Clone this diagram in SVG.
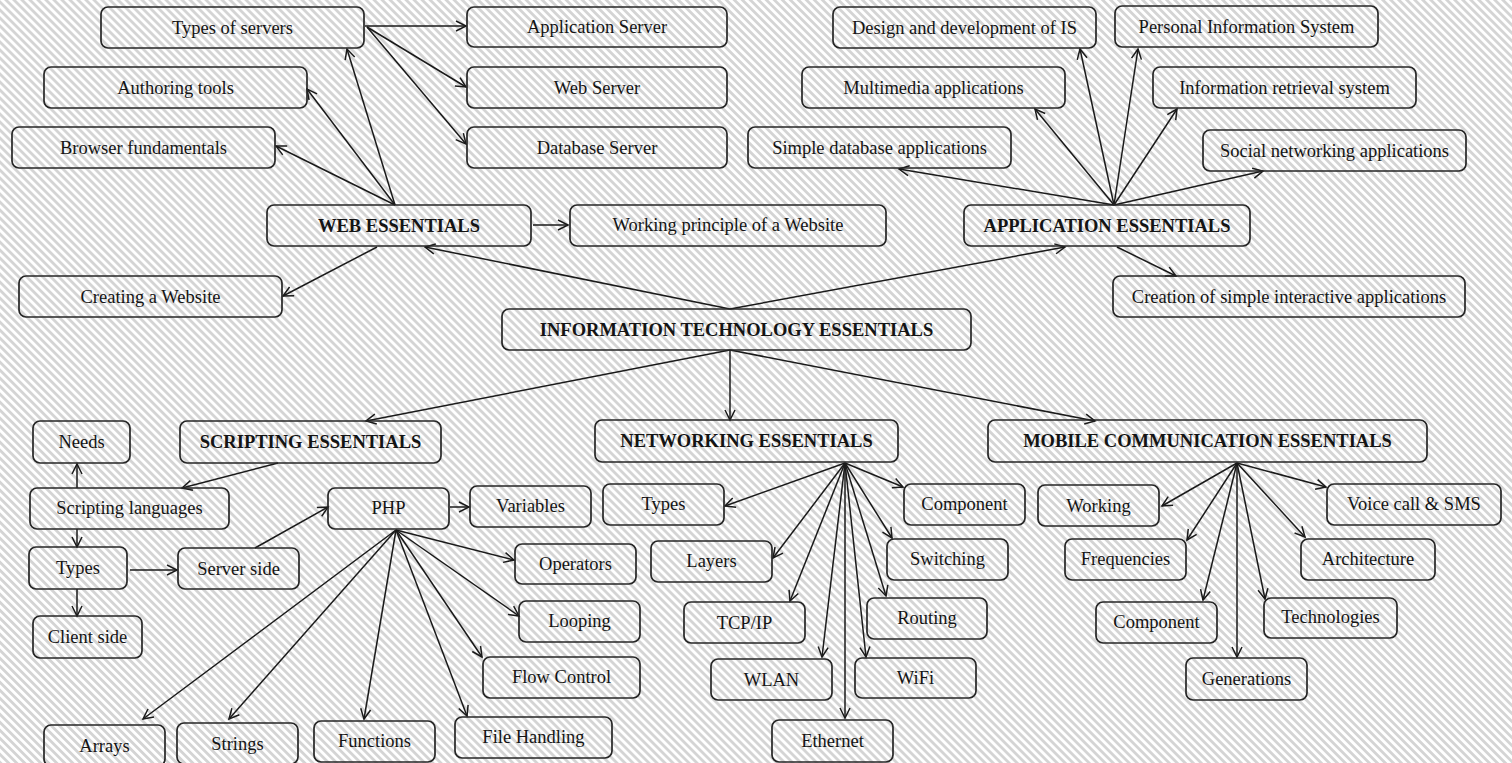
<svg xmlns="http://www.w3.org/2000/svg" width="1512" height="763" viewBox="0 0 1512 763">
<defs>
<pattern id="stripes" patternUnits="userSpaceOnUse" width="5.66" height="5.66" patternTransform="rotate(45)">
<rect width="5.66" height="5.66" fill="#ffffff"/>
<rect width="5.66" height="2.8" fill="#d4d4d4"/>
</pattern>
<marker id="arr" markerUnits="userSpaceOnUse" markerWidth="14" markerHeight="14" refX="11" refY="6" orient="auto" viewBox="0 0 14 12">
<path d="M1,1 L11,6 L1,11" fill="none" stroke="#1a1a1a" stroke-width="1.5"/>
</marker>
</defs>
<style>
.b{fill:none;stroke:#262626;stroke-width:1.7}
.t{font-family:"Liberation Serif","Times New Roman",serif;font-size:18.5px;fill:#141414;text-anchor:middle}
.h{font-weight:bold}
.c line{stroke:#1a1a1a;stroke-width:1.5;marker-end:url(#arr)}
</style>
<rect width="1512" height="763" fill="url(#stripes)"/>

<g class="c" id="connectors">
<line x1="395" y1="205" x2="347" y2="49"/>
<line x1="395" y1="205" x2="307" y2="89"/>
<line x1="395" y1="205" x2="276" y2="146"/>
<line x1="365" y1="26" x2="466" y2="26"/>
<line x1="367" y1="27" x2="466" y2="87"/>
<line x1="367" y1="27" x2="466" y2="144"/>
<line x1="533" y1="225" x2="568" y2="225"/>
<line x1="377" y1="247" x2="283" y2="296"/>
<line x1="730" y1="309" x2="425" y2="247"/>
<line x1="730" y1="309" x2="1065" y2="247"/>
<line x1="730" y1="350" x2="366" y2="421"/>
<line x1="730" y1="350" x2="730" y2="420"/>
<line x1="730" y1="350" x2="1095" y2="421"/>
<line x1="1114" y1="205" x2="1080" y2="49"/>
<line x1="1114" y1="205" x2="1138" y2="49"/>
<line x1="1114" y1="205" x2="1035" y2="109"/>
<line x1="1114" y1="205" x2="1177" y2="109"/>
<line x1="1114" y1="205" x2="899" y2="169"/>
<line x1="1114" y1="205" x2="1263" y2="171"/>
<line x1="1117" y1="247" x2="1176" y2="276"/>
<line x1="278" y1="463" x2="182" y2="488"/>
<line x1="77" y1="488" x2="77" y2="464"/>
<line x1="77" y1="529" x2="77" y2="547"/>
<line x1="130" y1="570" x2="177" y2="570"/>
<line x1="77" y1="589" x2="77" y2="616"/>
<line x1="255" y1="548" x2="328" y2="507"/>
<line x1="450" y1="507" x2="469" y2="507"/>
<line x1="396" y1="530" x2="514" y2="560"/>
<line x1="396" y1="530" x2="519" y2="616"/>
<line x1="396" y1="530" x2="482" y2="657"/>
<line x1="396" y1="530" x2="467" y2="716"/>
<line x1="396" y1="530" x2="364" y2="719"/>
<line x1="396" y1="530" x2="229" y2="719"/>
<line x1="396" y1="530" x2="143" y2="719"/>
<line x1="845" y1="463" x2="725" y2="506"/>
<line x1="845" y1="463" x2="903" y2="487"/>
<line x1="845" y1="463" x2="773" y2="558"/>
<line x1="845" y1="463" x2="892" y2="538"/>
<line x1="845" y1="463" x2="790" y2="601"/>
<line x1="845" y1="463" x2="886" y2="596"/>
<line x1="845" y1="463" x2="822" y2="657"/>
<line x1="845" y1="463" x2="866" y2="657"/>
<line x1="845" y1="463" x2="845" y2="718"/>
<line x1="1237" y1="463" x2="1162" y2="506"/>
<line x1="1237" y1="463" x2="1326" y2="487"/>
<line x1="1237" y1="463" x2="1187" y2="540"/>
<line x1="1237" y1="463" x2="1305" y2="537"/>
<line x1="1237" y1="463" x2="1203" y2="600"/>
<line x1="1237" y1="463" x2="1265" y2="599"/>
<line x1="1237" y1="463" x2="1237" y2="657"/>
</g>

<g id="n-types-servers"><rect class="b" x="101" y="7" width="263" height="41" rx="7"/><text class="t" x="232.5" y="34">Types of servers</text></g>
<g id="n-authoring"><rect class="b" x="44" y="67" width="263" height="41" rx="7"/><text class="t" x="175.5" y="94">Authoring tools</text></g>
<g id="n-browser"><rect class="b" x="12" y="127" width="263" height="41" rx="7"/><text class="t" x="143.5" y="154">Browser fundamentals</text></g>
<g id="n-web"><rect class="b" x="267" y="205" width="264" height="41" rx="7"/><text class="t h" x="399" y="232">WEB ESSENTIALS</text></g>
<g id="n-creating"><rect class="b" x="19" y="276" width="263" height="41" rx="7"/><text class="t" x="150.5" y="303">Creating a Website</text></g>
<g id="n-appserver"><rect class="b" x="467" y="7" width="260" height="40" rx="7"/><text class="t" x="597" y="33">Application Server</text></g>
<g id="n-webserver"><rect class="b" x="467" y="67" width="260" height="41" rx="7"/><text class="t" x="597" y="94">Web Server</text></g>
<g id="n-dbserver"><rect class="b" x="467" y="127" width="260" height="41" rx="7"/><text class="t" x="597" y="154">Database Server</text></g>
<g id="n-working-principle"><rect class="b" x="570" y="205" width="316" height="41" rx="7"/><text class="t" x="728" y="231">Working principle of a Website</text></g>

<g id="n-design"><rect class="b" x="833" y="7" width="263" height="41" rx="7"/><text class="t" x="964.5" y="34">Design and development of IS</text></g>
<g id="n-personal"><rect class="b" x="1115" y="6" width="263" height="41" rx="7"/><text class="t" x="1246.5" y="33">Personal Information System</text></g>
<g id="n-multimedia"><rect class="b" x="802" y="67" width="263" height="41" rx="7"/><text class="t" x="933.5" y="94">Multimedia applications</text></g>
<g id="n-retrieval"><rect class="b" x="1153" y="67" width="263" height="41" rx="7"/><text class="t" x="1284.5" y="94">Information retrieval system</text></g>
<g id="n-simpledb"><rect class="b" x="748" y="127" width="263" height="41" rx="7"/><text class="t" x="879.5" y="154">Simple database applications</text></g>
<g id="n-social"><rect class="b" x="1203" y="130" width="263" height="41" rx="7"/><text class="t" x="1334.5" y="157">Social networking applications</text></g>
<g id="n-app"><rect class="b" x="964" y="205" width="286" height="41" rx="7"/><text class="t h" x="1107" y="232">APPLICATION ESSENTIALS</text></g>
<g id="n-creation"><rect class="b" x="1113" y="276" width="352" height="41" rx="7"/><text class="t" x="1289" y="303">Creation of simple interactive applications</text></g>

<g id="n-it"><rect class="b" x="502" y="309" width="469" height="41" rx="7"/><text class="t h" x="736.5" y="336">INFORMATION TECHNOLOGY ESSENTIALS</text></g>

<g id="n-scripting"><rect class="b" x="180" y="421" width="261" height="42" rx="7"/><text class="t h" x="310.5" y="448">SCRIPTING ESSENTIALS</text></g>
<g id="n-needs"><rect class="b" x="33" y="421" width="97" height="42" rx="7"/><text class="t" x="81.5" y="448">Needs</text></g>
<g id="n-scripting-lang"><rect class="b" x="30" y="488" width="199" height="41" rx="7"/><text class="t" x="129.5" y="514">Scripting languages</text></g>
<g id="n-php"><rect class="b" x="328" y="488" width="121" height="41" rx="7"/><text class="t" x="388.5" y="514">PHP</text></g>
<g id="n-variables"><rect class="b" x="470" y="486" width="121" height="41" rx="7"/><text class="t" x="530.5" y="512">Variables</text></g>
<g id="n-types-s"><rect class="b" x="29" y="547" width="98" height="42" rx="7"/><text class="t" x="78" y="574">Types</text></g>
<g id="n-serverside"><rect class="b" x="178" y="548" width="121" height="41" rx="7"/><text class="t" x="238.5" y="575">Server side</text></g>
<g id="n-operators"><rect class="b" x="515" y="544" width="121" height="40" rx="7"/><text class="t" x="575.5" y="570">Operators</text></g>
<g id="n-clientside"><rect class="b" x="33" y="616" width="109" height="42" rx="7"/><text class="t" x="87.5" y="643">Client side</text></g>
<g id="n-looping"><rect class="b" x="519" y="601" width="121" height="41" rx="7"/><text class="t" x="579.5" y="627">Looping</text></g>
<g id="n-flow"><rect class="b" x="483" y="657" width="157" height="41" rx="7"/><text class="t" x="561.5" y="683">Flow Control</text></g>
<g id="n-arrays"><rect class="b" x="44" y="725" width="121" height="41" rx="7"/><text class="t" x="104.5" y="752">Arrays</text></g>
<g id="n-strings"><rect class="b" x="177" y="723" width="121" height="41" rx="7"/><text class="t" x="237.5" y="750">Strings</text></g>
<g id="n-functions"><rect class="b" x="314" y="721" width="121" height="41" rx="7"/><text class="t" x="374.5" y="747">Functions</text></g>
<g id="n-filehandling"><rect class="b" x="455" y="717" width="157" height="41" rx="7"/><text class="t" x="533.5" y="743">File Handling</text></g>

<g id="n-networking"><rect class="b" x="595" y="420" width="303" height="42" rx="7"/><text class="t h" x="746.5" y="447">NETWORKING ESSENTIALS</text></g>
<g id="n-types-n"><rect class="b" x="603" y="484" width="121" height="41" rx="7"/><text class="t" x="663.5" y="510">Types</text></g>
<g id="n-component-n"><rect class="b" x="904" y="484" width="121" height="41" rx="7"/><text class="t" x="964.5" y="510">Component</text></g>
<g id="n-layers"><rect class="b" x="651" y="541" width="121" height="41" rx="7"/><text class="t" x="711.5" y="567">Layers</text></g>
<g id="n-switching"><rect class="b" x="887" y="539" width="121" height="41" rx="7"/><text class="t" x="947.5" y="565">Switching</text></g>
<g id="n-tcpip"><rect class="b" x="684" y="602" width="121" height="41" rx="7"/><text class="t" x="744.5" y="629">TCP/IP</text></g>
<g id="n-routing"><rect class="b" x="867" y="598" width="120" height="41" rx="7"/><text class="t" x="927" y="624">Routing</text></g>
<g id="n-wlan"><rect class="b" x="711" y="659" width="121" height="41" rx="7"/><text class="t" x="771.5" y="686">WLAN</text></g>
<g id="n-wifi"><rect class="b" x="855" y="658" width="121" height="40" rx="7"/><text class="t" x="915.5" y="684">WiFi</text></g>
<g id="n-ethernet"><rect class="b" x="772" y="720" width="121" height="42" rx="7"/><text class="t" x="832.5" y="747">Ethernet</text></g>

<g id="n-mobile"><rect class="b" x="988" y="420" width="439" height="42" rx="7"/><text class="t h" x="1207.5" y="447">MOBILE COMMUNICATION ESSENTIALS</text></g>
<g id="n-working"><rect class="b" x="1038" y="485" width="121" height="41" rx="7"/><text class="t" x="1098.5" y="512">Working</text></g>
<g id="n-voice"><rect class="b" x="1327" y="484" width="174" height="41" rx="7"/><text class="t" x="1414" y="510">Voice call &amp; SMS</text></g>
<g id="n-frequencies"><rect class="b" x="1065" y="539" width="121" height="41" rx="7"/><text class="t" x="1125.5" y="565">Frequencies</text></g>
<g id="n-architecture"><rect class="b" x="1301" y="539" width="134" height="41" rx="7"/><text class="t" x="1368" y="565">Architecture</text></g>
<g id="n-component-m"><rect class="b" x="1096" y="602" width="121" height="41" rx="7"/><text class="t" x="1156.5" y="628">Component</text></g>
<g id="n-technologies"><rect class="b" x="1264" y="598" width="133" height="40" rx="7"/><text class="t" x="1330.5" y="623">Technologies</text></g>
<g id="n-generations"><rect class="b" x="1186" y="658" width="121" height="42" rx="7"/><text class="t" x="1246.5" y="685">Generations</text></g>
</svg>
